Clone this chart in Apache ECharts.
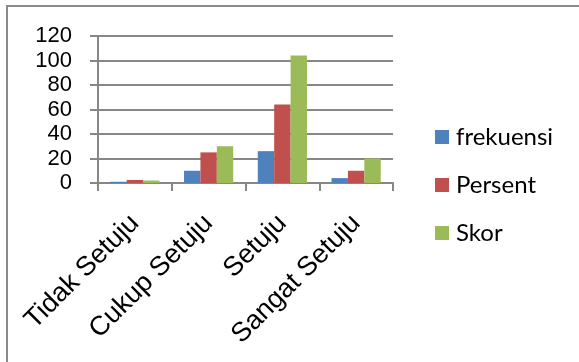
<!DOCTYPE html>
<html>
<head>
<meta charset="utf-8">
<script src="https://cdn.jsdelivr.net/npm/echarts@6/dist/echarts.min.js"></script>
<style>
  html, body { margin: 0; padding: 0; background: #fff; }
  #chart { width: 579px; height: 362px; }
</style>
</head>
<body>
<div id="chart"></div>
<script>
const categories = ['Tidak Setuju', 'Cukup Setuju', 'Setuju', 'Sangat Setuju'];
const frekuensi = [1, 10, 26, 4];
const persent = [2.5, 25, 64, 10];
const skor = [2, 30, 104, 20];
const yTicks = { min: 0, max: 120, interval: 20 };

const chart = echarts.init(document.getElementById('chart'));

const gridColor = '#878787';

const option = {
  animation: false,
  backgroundColor: '#fff',
  graphic: [
    {
      type: 'rect',
      shape: { x: 7, y: 6, width: 640, height: 420 },
      style: { fill: 'none', stroke: '#8a8a8a', lineWidth: 2 },
      silent: true
    }
  ],
  grid: { left: 98, right: 186, top: 36, bottom: 179 },
  legend: {
    orient: 'vertical',
    left: 430,
    top: 120,
    itemWidth: 14,
    itemHeight: 14,
    itemGap: 24,
    icon: 'rect',
    textStyle: { fontFamily: 'Lato', fontSize: 24, color: '#000', padding: [0, 0, 0, 2] },
    data: ['frekuensi', 'Persent', 'Skor']
  },
  xAxis: {
    type: 'category',
    data: categories,
    axisLine: { lineStyle: { color: gridColor, width: 2 } },
    axisTick: { show: true, length: 8, alignWithLabel: false, lineStyle: { color: gridColor, width: 2 } },
    axisLabel: {
      rotate: 45,
      interval: 0,
      margin: 36,
      fontFamily: 'Liberation Sans',
      fontSize: 27,
      color: '#000'
    }
  },
  yAxis: {
    type: 'value',
    min: yTicks.min,
    max: yTicks.max,
    interval: yTicks.interval,
    axisLine: { show: true, lineStyle: { color: gridColor, width: 2 } },
    axisTick: { show: true, length: 8, lineStyle: { color: gridColor, width: 2 } },
    splitLine: { show: true, lineStyle: { color: gridColor, width: 2 } },
    axisLabel: {
      margin: 26,
      fontFamily: 'Liberation Sans',
      fontSize: 22,
      color: '#000'
    }
  },
  series: [
    { name: 'frekuensi', type: 'bar', data: frekuensi, barGap: '0%', barCategoryGap: '33.3%', itemStyle: { color: '#4F81BD' } },
    { name: 'Persent', type: 'bar', data: persent, barGap: '0%', barCategoryGap: '33.3%', itemStyle: { color: '#C0504D' } },
    { name: 'Skor', type: 'bar', data: skor, barGap: '0%', barCategoryGap: '33.3%', itemStyle: { color: '#9BBB59' } }
  ]
};

chart.setOption(option);
</script>
</body>
</html>
